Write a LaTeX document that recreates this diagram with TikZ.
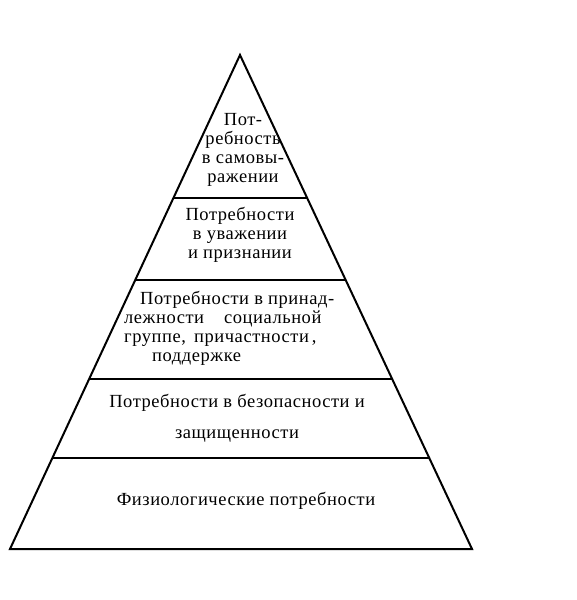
\documentclass[tikz,border=0pt]{standalone}
\usepackage{fontspec}
\setmainfont{Liberation Serif}[LetterSpace=3]
\usetikzlibrary{calc}
\begin{document}
\begin{tikzpicture}
            [x = 1pt, y = -1pt,
             edge/.style = {line width = 2pt},
             caption/.style = {font = \fontsize{18.5}{19}\selectfont, align = center, inner sep = 0pt}]
            \useasboundingbox (0,0) rectangle (576,600);
            \coordinate (top) at (240,55);
            \coordinate (left) at (10,549);
            \coordinate (right) at (472,549);
            \draw[edge, line join = miter] (top) -- (left) -- (right) -- cycle;
            \draw[edge] ($(top)!0.2900!(left)$) -- ($(top)!0.2900!(right)$);
            \draw[edge] ($(top)!0.4555!(left)$) -- ($(top)!0.4555!(right)$);
            \draw[edge] ($(top)!0.6559!(left)$) -- ($(top)!0.6559!(right)$);
            \draw[edge] ($(top)!0.8158!(left)$) -- ($(top)!0.8158!(right)$);
            \node[caption] (self) at (243,150) {Пот-\\ребность\\в самовы-\\ражении};
            \node[caption] (esteem) at (240,235) {Потребности\\в уважении\\и признании};
            \node[caption, align = left, anchor = west] (belong) at (124,328)
                {\hspace*{16pt}Потребности в принад-\\лежности\hspace{20pt}социальной\\группе,\hspace{3pt} причастности\hspace{3pt},\\\hspace*{28pt}поддержке};
            \node[caption, font = \fontsize{18.5}{31}\selectfont] (safety) at (237,418) {Потребности в безопасности и\\защищенности};
            \node[caption] (body) at (246,501) {Физиологические потребности};
        \end{tikzpicture}
\end{document}
